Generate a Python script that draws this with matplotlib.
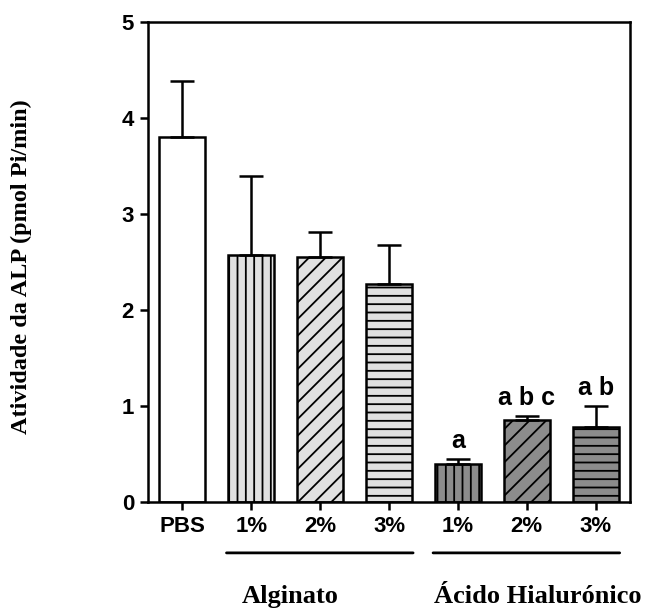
import matplotlib
matplotlib.use("Agg")
import matplotlib.pyplot as plt

categories = ["PBS", "1%", "2%", "3%", "1%", "2%", "3%"]
means = [3.80, 2.57, 2.55, 2.27, 0.40, 0.85, 0.78]
errors = [0.59, 0.83, 0.26, 0.41, 0.05, 0.05, 0.22]
sig_labels = ["", "", "", "", "a", "a b c", "a b"]
groups = ["Alginato", "Ácido Hialurónico"]
group_members = [[1, 2, 3], [4, 5, 6]]
group_label_x = [1.56, 5.16]
colors = ["white", "#e0e0e0", "#e0e0e0", "#e0e0e0", "#8c8c8c", "#8c8c8c", "#8c8c8c"]
hatches = ["", "||", "//", "--", "||", "//", "--"]

plt.rcParams['hatch.linewidth'] = 1.3
fig = plt.figure(figsize=(6.45, 6.10), dpi=100)
ax = fig.add_axes([148/645, 1-502/610, (630-148)/645, (502-22)/610])

x = list(range(len(categories)))
for i in x:
    ax.bar(i, means[i], width=0.67, color=colors[i], edgecolor="black",
           linewidth=1.8, hatch=hatches[i], zorder=2)
ax.errorbar(x, means, yerr=[[0]*len(errors), errors], fmt="none",
            ecolor="black", elinewidth=1.8, capsize=8.5, capthick=1.8, zorder=3)
for i, s in enumerate(sig_labels):
    if s:
        ax.text(i, means[i] + errors[i] + 0.06, s, ha="center", va="bottom",
                fontsize=18, fontweight="bold", family="Liberation Sans")

ax.set_xlim(-0.5, 6.5)
ax.set_ylim(0, 5)
ax.set_yticks([0, 1, 2, 3, 4, 5])
ax.set_xticks(x)
ax.set_xticklabels(categories)
for lab in ax.get_xticklabels() + ax.get_yticklabels():
    lab.set_fontsize(16)
    lab.set_fontweight("bold")
    lab.set_family("Liberation Sans")
ax.tick_params(axis="both", direction="out", width=1.8, length=6, pad=4)
for sp in ax.spines.values():
    sp.set_linewidth(1.8)

ax.set_ylabel("Atividade da ALP (pmol Pi/min)", fontsize=17.5, fontweight="bold",
              family="Liberation Serif")
ax.yaxis.set_label_coords(-0.24, 0.49)

# group underlines and labels
for g, members, gx in zip(groups, group_members, group_label_x):
    x0 = members[0] - 0.36
    x1 = members[-1] + 0.35
    ax.annotate("", xy=(x0, -0.53), xytext=(x1, -0.53), xycoords="data",
                annotation_clip=False,
                arrowprops=dict(arrowstyle="-", lw=2.0, color="black",
                                shrinkA=0, shrinkB=0))
    ax.text(gx, -0.98, g, ha="center", va="center",
            fontsize=19, fontweight="bold", family="Liberation Serif",
            clip_on=False)

fig.savefig("out.png", dpi=100)
